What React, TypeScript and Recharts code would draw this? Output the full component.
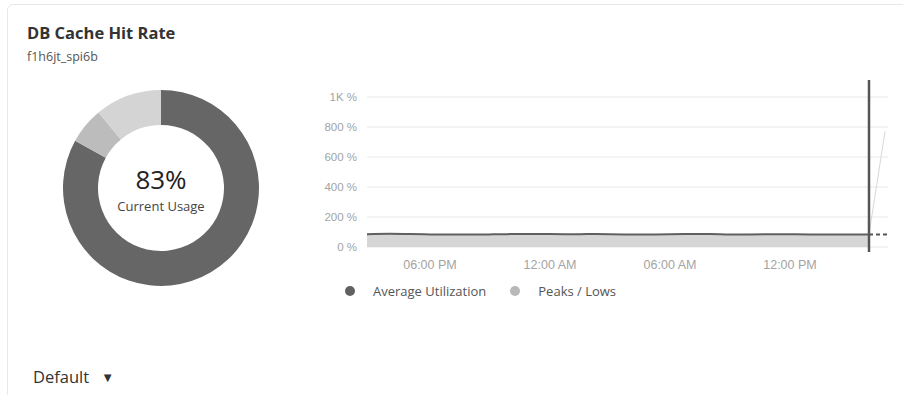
import {
  Area,
  CartesianGrid,
  Cell,
  ComposedChart,
  Line,
  Pie,
  PieChart,
  ReferenceLine,
  XAxis,
  YAxis,
} from "recharts";

// hours counted from 12:00 PM of the first day
const hours = [2.85, 4, 5, 6, 7, 8, 9, 10, 11, 12, 13, 14, 15, 16, 17, 18, 19, 20, 21, 22, 23, 24, 25, 26, 27, 27.95, 28.75, 28.9];
const avgUtil = [85, 88, 86, 84, 83, 83, 84, 86, 87, 86, 85, 86, 85, 84, 84, 85, 86, 86, 83, 84, 85, 85, 84, 83, 83, 84, null, null];
const peaks = [84, 86, 85, 83, 82, 82, 83, 85, 86, 85, 84, 85, 84, 83, 83, 84, 85, 85, 82, 83, 84, 84, 83, 82, 82, 83, null, null];
const lows = [0, 0, 0, 0, 0, 0, 0, 0, 0, 0, 0, 0, 0, 0, 0, 0, 0, 0, 0, 0, 0, 0, 0, 0, 0, 0, null, null];
const forecast = [null, null, null, null, null, null, null, null, null, null, null, null, null, null, null, null, null, null, null, null, null, null, null, null, null, 84, null, 84];
const spike = [null, null, null, null, null, null, null, null, null, null, null, null, null, null, null, null, null, null, null, null, null, null, null, null, null, 84, 770, null];

const nowHour = 27.95;
const xTicks = [6, 12, 18, 24];
const xTickLabels = ["06:00 PM", "12:00 AM", "06:00 AM", "12:00 PM"];
const yTicks = [0, 200, 400, 600, 800, 1000];
const yTickLabels = ["0 %", "200 %", "400 %", "600 %", "800 %", "1K %"];

const usageNames = ["Used", "Peak", "Free"];
const usageValues = [83, 6, 11];
const usageColors = ["#666666", "#bcbcbc", "#d4d4d4"];

const legendNames = ["Average Utilization", "Peaks / Lows"];
const legendColors = ["#616161", "#b8b8b8"];

const rows = hours.map((h, i) => ({
  hour: h,
  avg: avgUtil[i],
  band: peaks[i] == null ? null : [lows[i], peaks[i]],
  forecast: forecast[i],
  spike: spike[i],
}));
const pieRows = usageNames.map((name, i) => ({ name, value: usageValues[i] }));

const font = "'Open Sans', sans-serif";
const axisFont = "'Liberation Sans', Arial, sans-serif";

function NowMarker(p: any) {
  const top = Math.min(p.y1, p.y2);
  const bottom = Math.max(p.y1, p.y2);
  return <line x1={p.x1} x2={p.x2} y1={top - 17} y2={bottom + 5} stroke="#555" strokeWidth={2.5} />;
}

export default function App() {
  return (
    <div style={{ position: "absolute", left: 0, top: 0, width: 903, height: 395, background: "#fff", overflow: "hidden", fontFamily: font }}>
      <div
        style={{
          position: "absolute",
          left: 7,
          top: 4,
          width: 910,
          height: 410,
          border: "1px solid #e8e8e8",
          borderRadius: 6,
        }}
      />
      <div style={{ position: "absolute", left: 27, top: 21, fontSize: 16.5, fontWeight: 700, color: "#333" }}>DB Cache Hit Rate</div>
      <div style={{ position: "absolute", left: 27, top: 48, fontSize: 12.5, color: "#555" }}>f1h6jt_spi6b</div>

      <div style={{ position: "absolute", left: 46, top: 73 }}>
        <PieChart width={230} height={230} margin={{ top: 0, right: 0, bottom: 0, left: 0 }}>
          <Pie
            data={pieRows}
            dataKey="value"
            cx={115}
            cy={115}
            innerRadius={63}
            outerRadius={98}
            startAngle={90}
            endAngle={-270}
            stroke="none"
            isAnimationActive={false}
          >
            {pieRows.map((r, i) => (
              <Cell key={r.name} fill={usageColors[i]} />
            ))}
          </Pie>
        </PieChart>
      </div>
      <div style={{ position: "absolute", left: 111, width: 100, top: 161, textAlign: "center", fontSize: 26, color: "#222", lineHeight: "36px" }}>83%</div>
      <div style={{ position: "absolute", left: 91, width: 140, top: 196, textAlign: "center", fontSize: 13, color: "#444", lineHeight: "20px" }}>Current Usage</div>

      <div style={{ position: "absolute", left: 300, top: 70 }}>
        <ComposedChart width={603} height={210} data={rows} margin={{ top: 27, right: 15, bottom: 3, left: 7 }}>
          <CartesianGrid stroke="#e8e8e8" vertical={false} />
          <XAxis
            dataKey="hour"
            type="number"
            domain={[2.85, 28.9]}
            ticks={xTicks}
            tickFormatter={(v) => xTickLabels[xTicks.indexOf(v)]}
            axisLine={false}
            tickLine={false}
            tickMargin={7}
            height={30}
            tick={{ fontSize: 12.5, fill: "#a3a3a3", fontFamily: axisFont }}
          />
          <YAxis
            type="number"
            domain={[0, 1000]}
            ticks={yTicks}
            tickFormatter={(v) => yTickLabels[yTicks.indexOf(v)]}
            axisLine={false}
            tickLine={false}
            tickMargin={4}
            width={60}
            tick={{ fontSize: 11.5, fill: "#a3a3a3", fontFamily: axisFont }}
          />
          <Area dataKey="band" type="monotone" stroke="none" fill="#d6d6d6" fillOpacity={1} isAnimationActive={false} />
          <Line dataKey="avg" type="monotone" stroke="#606060" strokeWidth={2} dot={false} isAnimationActive={false} />
          <Line
            dataKey="forecast"
            type="linear"
            stroke="#555"
            strokeWidth={2}
            strokeDasharray="4 3"
            dot={false}
            connectNulls
            isAnimationActive={false}
          />
          <Line dataKey="spike" type="linear" stroke="#d8d8d8" strokeWidth={1} dot={false} isAnimationActive={false} />
          <ReferenceLine x={nowHour} ifOverflow="visible" shape={NowMarker} />
        </ComposedChart>
      </div>

      <div style={{ position: "absolute", left: 345, top: 282, display: "flex", alignItems: "center", fontSize: 13, color: "#555" }}>
        {legendNames.map((name, i) => (
          <div key={name} style={{ display: "flex", alignItems: "center", marginRight: 24 }}>
            <span style={{ width: 10, height: 10, borderRadius: 5, background: legendColors[i], marginRight: 18, display: "inline-block" }} />
            {name}
          </div>
        ))}
      </div>

      <div style={{ position: "absolute", left: 33, top: 365, fontSize: 16.5, color: "#333", display: "flex", alignItems: "center" }}>
        Default
        <span style={{ fontSize: 13, marginLeft: 12 }}>▼</span>
      </div>
    </div>
  );
}
